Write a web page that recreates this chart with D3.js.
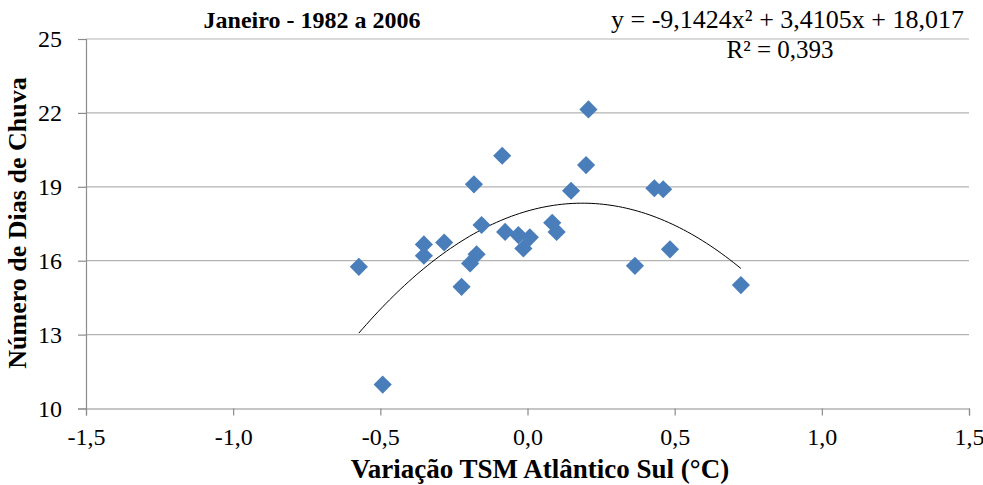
<!DOCTYPE html>
<html>
<head>
<meta charset="utf-8">
<script src="https://cdn.jsdelivr.net/npm/d3@7"></script>
<style>
  html, body { margin: 0; padding: 0; background: #fff; }
  svg { display: block; }
  svg text { font-family: "Liberation Serif", "Times New Roman", serif !important; fill: #000; }
</style>
</head>
<body>
<svg id="chart" width="983" height="485"></svg>
<script>
// ---- data ----
const tsmAnomaly = [0.207, -0.086, 0.199, -0.182, 0.148, 0.431, 0.461, -0.156, 0.084, 0.099,
                    -0.076, -0.031, 0.008, -0.014, -0.283, -0.352, -0.352, -0.173, -0.195, -0.573,
                    -0.224, 0.365, 0.484, 0.725, -0.492];
const rainDays   = [22.14, 20.26, 19.88, 19.10, 18.84, 18.94, 18.90, 17.45, 17.54, 17.17,
                    17.17, 17.04, 16.95, 16.50, 16.74, 16.66, 16.20, 16.26, 15.89, 15.75,
                    14.94, 15.79, 16.46, 15.01, 10.97];
const trendCoef  = [-9.1424, 3.4105, 18.017];   // a x^2 + b x + c
const xTicks = [-1.5, -1.0, -0.5, 0.0, 0.5, 1.0, 1.5];
const yTicks = [10, 13, 16, 19, 22, 25];
const titleText = "Janeiro - 1982 a 2006";
const eqText = "y = -9,1424x\u00B2 + 3,4105x + 18,017";
const r2Text = "R\u00B2 = 0,393";
const xLabel = "Variação TSM Atlântico Sul (°C)";
const yLabel = "Número de Dias de Chuva";

// ---- layout ----
const svg = d3.select("#chart");
const L = 86, R = 969, T = 39, B = 408.5;
const x = d3.scaleLinear().domain([-1.5, 1.5]).range([L, R]);
const y = d3.scaleLinear().domain([10, 25]).range([B, T]);
const fmt = v => d3.format(".1f")(v).replace(".", ",").replace("\u2212", "-");
const SERIF = "'Liberation Serif', 'Times New Roman', serif";

// gridlines
svg.append("g").selectAll("line").data(yTicks.filter(d => d > 10)).join("line")
  .attr("x1", L).attr("x2", R)
  .attr("y1", d => y(d)).attr("y2", d => y(d))
  .attr("stroke", "#b3b3b3").attr("stroke-width", 1.2);

// y axis
const yAxis = svg.append("g").attr("transform", `translate(${L},0)`)
  .call(d3.axisLeft(y).tickValues(yTicks).tickSize(8).tickPadding(16).tickFormat(d => d));
yAxis.attr("font-family", SERIF);
yAxis.select(".domain").attr("stroke", "#8c8c8c").attr("stroke-width", 1.2);
yAxis.selectAll(".tick line").attr("stroke", "#8c8c8c").attr("stroke-width", 1.2);
yAxis.selectAll(".tick text").attr("font-size", 24).attr("fill", "#000")
  .style("font-family", SERIF);

// x axis
const xAxis = svg.append("g").attr("transform", `translate(0,${B})`)
  .call(d3.axisBottom(x).tickValues(xTicks).tickSize(7).tickPadding(12).tickFormat(fmt));
xAxis.attr("font-family", SERIF);
xAxis.select(".domain").attr("stroke", "#8c8c8c").attr("stroke-width", 1.2);
xAxis.selectAll(".tick line").attr("stroke", "#8c8c8c").attr("stroke-width", 1.2);
xAxis.selectAll(".tick text").attr("font-size", 24).attr("fill", "#000")
  .style("font-family", SERIF);

// trend line (from the fitted equation shown on the chart)
const [a, b, c] = trendCoef;
const xmin = d3.min(tsmAnomaly), xmax = d3.max(tsmAnomaly);
const trendPts = d3.range(0, 101).map(i => {
  const xv = xmin + (xmax - xmin) * i / 100;
  return [xv, a * xv * xv + b * xv + c];
});
svg.append("path").datum(trendPts)
  .attr("fill", "none").attr("stroke", "#000").attr("stroke-width", 1)
  .attr("d", d3.line().x(d => x(d[0])).y(d => y(d[1])));

// points
const sym = d3.symbol().type(d3.symbolSquare).size(165);
svg.append("g").selectAll("path").data(tsmAnomaly.map((v, i) => [v, rainDays[i]])).join("path")
  .attr("d", sym)
  .attr("transform", d => `translate(${x(d[0])},${y(d[1])}) rotate(45)`)
  .attr("fill", "#4a7ebb");

// texts
svg.append("text").attr("x", 312).attr("y", 28).attr("text-anchor", "middle")
  .attr("font-size", 24).attr("font-weight", "bold").text(titleText);
svg.append("text").attr("x", 964).attr("y", 28).attr("text-anchor", "end")
  .attr("font-size", 26).text(eqText);
svg.append("text").attr("x", 780).attr("y", 58).attr("text-anchor", "middle")
  .attr("font-size", 25).text(r2Text);
svg.append("text").attr("x", 540).attr("y", 478).attr("text-anchor", "middle")
  .attr("font-size", 27).attr("font-weight", "bold").text(xLabel);
svg.append("text").attr("transform", "translate(26,223) rotate(-90)").attr("text-anchor", "middle")
  .attr("font-size", 26).attr("font-weight", "bold").text(yLabel);
</script>
</body>
</html>
